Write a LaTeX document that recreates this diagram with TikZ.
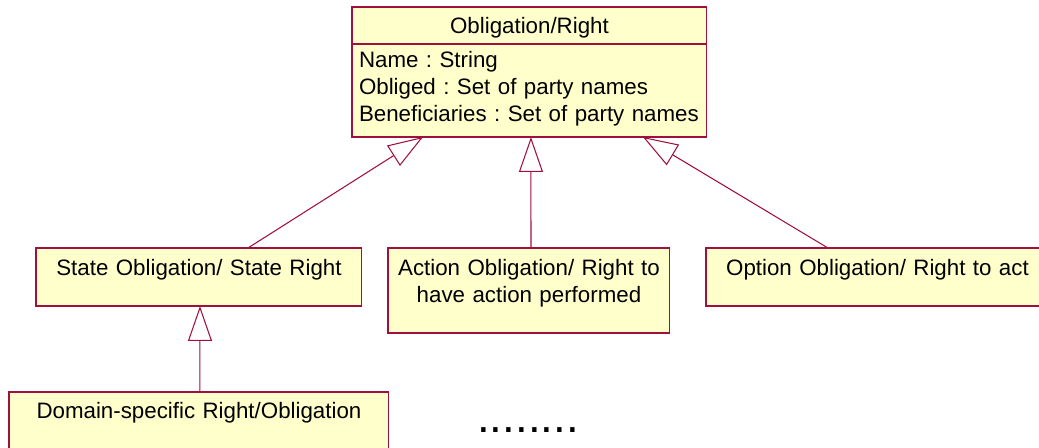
\documentclass[tikz,border=0pt]{standalone}
\usepackage{fontspec}
\setmainfont{Liberation Sans}
\usetikzlibrary{arrows.meta}
\definecolor{umlLine}{HTML}{A0103C}
\definecolor{umlFill}{HTML}{FFFFCC}
\frenchspacing

\begin{document}
\begin{tikzpicture}[
    x=0.02cm, y=-0.02cm,
    % Node styles
    classbox/.style={
        rectangle,
        draw=umlLine,
        fill=umlFill,
        line width=0.6pt,
        font=\fontsize{12.7pt}{15.3pt}\selectfont,
        anchor=north west,
        inner xsep=0pt,
        inner ysep=0pt,
        outer sep=0pt,
        align=center
    },
    inherit/.style={
        -{Triangle[open, length=0.7cm, width=0.48cm]},
        line width=0.6pt,
        draw=umlLine
    }
]

    % ==== FRAME ====
    \path[use as bounding box, clip] (0, 0) rectangle (1039, 447);

    % ==== SUPERCLASS ====
    \node[classbox, text width=7.10cm, text height=0.54cm, text depth=0.20cm] (head) at (352, 7) {Obligation/Right};
    \node[classbox, align=left, inner xsep=0.14cm, text width=6.82cm, text height=0.48cm, text depth=1.38cm] (attrs) at (head.south west) {Name : String\\Obliged : Set of party names\\Beneficiaries : Set of party names};

    % ==== SUBCLASSES ====
    \node[classbox, text width=6.52cm, text height=0.56cm, text depth=0.60cm] (state) at (36, 248) {State Obligation/ State Right};
    \node[classbox, text width=5.64cm, text height=0.56cm, text depth=1.14cm] (action) at (388, 248) {Action Obligation/ Right to\\have action performed};
    \node[classbox, text width=6.86cm, text height=0.56cm, text depth=0.60cm] (option) at (706, 248) {Option Obligation/ Right to act};

    % ==== DOMAIN LEVEL ====
    \node[classbox, text width=7.60cm, text height=0.52cm, text depth=0.64cm] (domain) at (9, 392) {Domain-specific Right/Obligation};
    \node[font=\fontsize{26pt}{30pt}\selectfont, inner sep=0pt, anchor=base] (more) at (528, 432) {........};

    % Generalisation arrows
    \draw[inherit] ([xshift=0.98cm]state.north) -- ([xshift=-2.13cm]attrs.south);
    \draw[inherit] ([xshift=0.04cm]action.north) -- ([xshift=0.03cm]attrs.south);
    \draw[inherit] ([xshift=-0.99cm]option.north) -- ([xshift=2.27cm]attrs.south);
    \draw[inherit] ([xshift=0.02cm]domain.north) -- ([xshift=0.02cm]state.south);

\end{tikzpicture}
\end{document}
